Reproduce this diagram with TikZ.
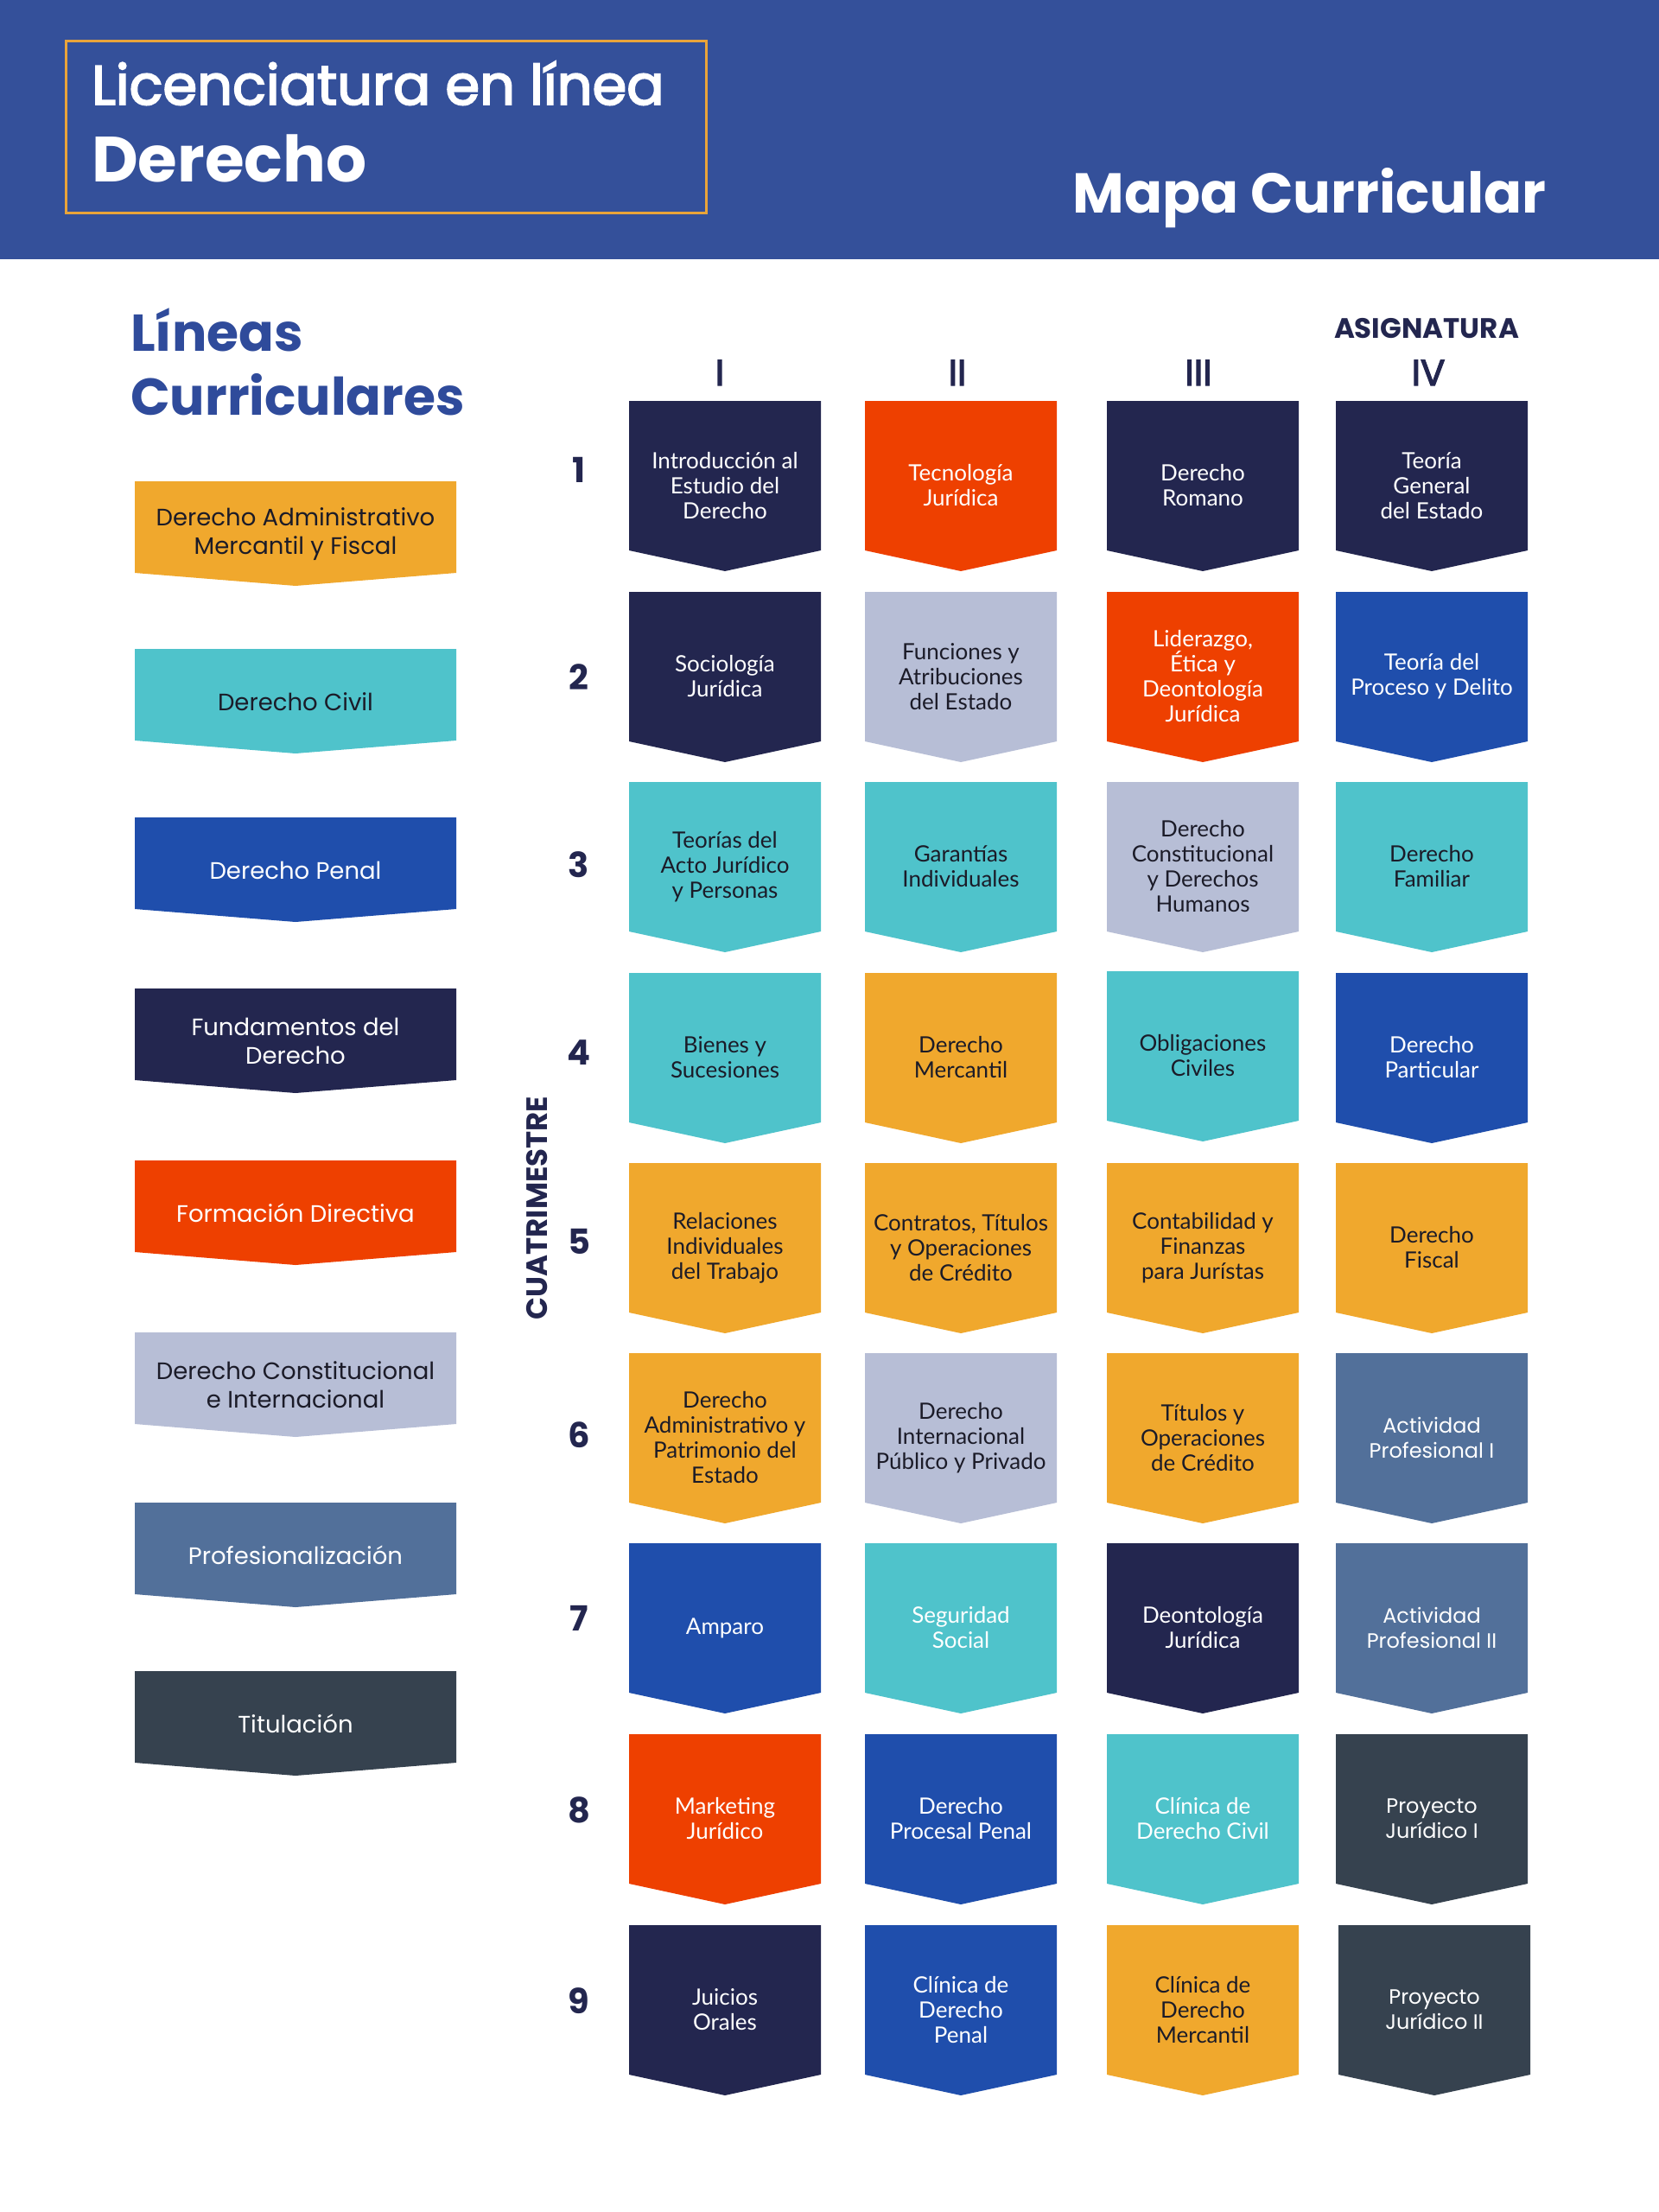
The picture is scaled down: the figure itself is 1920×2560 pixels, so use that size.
\documentclass[tikz,border=0pt]{standalone}
\usepackage{fontspec}
\setmainfont{Lato}
\newfontfamily\popf{Poppins}
\newfontfamily\popm[FakeBold=3]{Poppins}
\definecolor{hdr}{HTML}{34509A}
\definecolor{ttl}{HTML}{2F4B9B}
\definecolor{navy}{HTML}{23264F}
\definecolor{redo}{HTML}{EE4000}
\definecolor{lgray}{HTML}{B7BED6}
\definecolor{turq}{HTML}{4FC3CB}
\definecolor{blu}{HTML}{1F4EAC}
\definecolor{orng}{HTML}{F0A82D}
\definecolor{slate}{HTML}{52709A}
\definecolor{dslate}{HTML}{36424F}
\definecolor{bord}{HTML}{E9A43A}
\definecolor{ink}{HTML}{1B1B28}
\tikzset{
  gtext/.style={align=center, inner sep=0pt, font=\fontsize{26}{29}\selectfont},
  mtext/.style={align=center, inner sep=0pt, font=\popf\fontsize{24}{29}\selectfont},
  ltext/.style={align=center, inner sep=0pt, font=\popf\fontsize{27.5}{33}\selectfont},
  rownum/.style={inner sep=0pt, text=navy, font=\popf\bfseries\fontsize{40}{40}\selectfont},
  colnum/.style={inner sep=0pt, anchor=base, text=navy, font=\popm\fontsize{42}{42}\selectfont},
}
% grid box: name, center x, top y, fill, text colour, text style, text
\newcommand\gbox[7]{%
  \fill[#4] (#2-111,#3) -- (#2+111,#3) -- (#2+111,#3+173) -- (#2,#3+197) -- (#2-111,#3+173) -- cycle;
  \node[#6,text=#5] (#1) at (#2,#3+98) {#7};}
% legend box: name, top y, fill, text colour, text
\newcommand\lbox[5]{%
  \fill[#3] (156,#2) -- (528,#2) -- (528,#2+106) -- (342,#2+121) -- (156,#2+106) -- cycle;
  \node[ltext,text=#4] (#1) at (342,#2+61) {#5};}
\begin{document}
\begin{tikzpicture}[x=1pt,y=-1pt]
\useasboundingbox (0,0) rectangle (1920,2560);
\fill[white] (0,0) rectangle (1920,2560);
% header
\fill[hdr] (0,0) rectangle (1920,300);
\draw[bord, line width=3pt] (76,47) rectangle (817,246);
\node[anchor=base west, inner sep=0pt, text=white, font=\popm\fontsize{64}{64}\selectfont] (lic) at (106,121) {Licenciatura en línea};
\node[anchor=base west, inner sep=0pt, text=white, font=\popf\bfseries\fontsize{74}{74}\selectfont] (der) at (106,210) {Derecho};
\node[anchor=base east, inner sep=0pt, text=white, font=\popf\bfseries\fontsize{65}{65}\selectfont] (mapa) at (1790,246) {Mapa Curricular};
% left title
\node[anchor=base west, inner sep=0pt, text=ttl, font=\popf\bfseries\fontsize{60}{60}\selectfont] (lin) at (151,406) {Líneas};
\node[anchor=base west, inner sep=0pt, text=ttl, font=\popf\bfseries\fontsize{60}{60}\selectfont] (cur) at (151,480) {Curriculares};
% column heads
\node[anchor=base, inner sep=0pt, text=navy, font=\popf\bfseries\fontsize{32.5}{32}\selectfont] (asig) at (1651,391) {ASIGNATURA};
\node[colnum] (cI) at (833,446) {I};
\node[colnum] (cII) at (1108,446) {II};
\node[colnum] (cIII) at (1387,446) {III};
\node[colnum] (cIV) at (1653,446) {IV};
% row numbers
\node[rownum] (r1) at (670,544) {1};
\node[rownum] (r2) at (670,784) {2};
\node[rownum] (r3) at (670,1001) {3};
\node[rownum] (r4) at (670,1218) {4};
\node[rownum] (r5) at (670,1437) {5};
\node[rownum] (r6) at (670,1661) {6};
\node[rownum] (r7) at (670,1873) {7};
\node[rownum] (r8) at (670,2095) {8};
\node[rownum] (r9) at (670,2316) {9};
\node[rotate=90, inner sep=0pt, text=navy, font=\popf\bfseries\fontsize{34}{34}\selectfont] (cuat) at (622,1398) {CUATRIMESTRE};
% legend
\lbox{l1}{557}{orng}{ink}{Derecho Administrativo\\Mercantil y Fiscal}
\lbox{l2}{751}{turq}{ink}{Derecho Civil}
\lbox{l3}{946}{blu}{white}{Derecho Penal}
\lbox{l4}{1144}{navy}{white}{Fundamentos del\\Derecho}
\lbox{l5}{1343}{redo}{white}{Formación Directiva}
\lbox{l6}{1542}{lgray}{ink}{Derecho Constitucional\\e Internacional}
\lbox{l7}{1739}{slate}{white}{Profesionalización}
\lbox{l8}{1934}{dslate}{white}{Titulación}
% row 1
\gbox{a11}{839}{464}{navy}{white}{gtext}{Introducción al\\Estudio del\\Derecho}
\gbox{a12}{1112}{464}{redo}{white}{gtext}{Tecnología\\Jurídica}
\gbox{a13}{1392}{464}{navy}{white}{gtext}{Derecho\\Romano}
\gbox{a14}{1657}{464}{navy}{white}{gtext}{Teoría\\General\\del Estado}
% row 2
\gbox{a21}{839}{685}{navy}{white}{gtext}{Sociología\\Jurídica}
\gbox{a22}{1112}{685}{lgray}{ink}{gtext}{Funciones y\\Atribuciones\\del Estado}
\gbox{a23}{1392}{685}{redo}{white}{gtext}{Liderazgo,\\Ética y\\Deontología\\Jurídica}
\gbox{a24}{1657}{685}{blu}{white}{gtext}{Teoría del\\Proceso y Delito}
% row 3
\gbox{a31}{839}{905}{turq}{ink}{gtext}{Teorías del\\Acto Jurídico\\y Personas}
\gbox{a32}{1112}{905}{turq}{ink}{gtext}{Garantías\\Individuales}
\gbox{a33}{1392}{905}{lgray}{ink}{gtext}{Derecho\\Constitucional\\y Derechos\\Humanos}
\gbox{a34}{1657}{905}{turq}{ink}{gtext}{Derecho\\Familiar}
% row 4
\gbox{a41}{839}{1126}{turq}{ink}{gtext}{Bienes y\\Sucesiones}
\gbox{a42}{1112}{1126}{orng}{ink}{gtext}{Derecho\\Mercantil}
\gbox{a43}{1392}{1124}{turq}{ink}{gtext}{Obligaciones\\Civiles}
\gbox{a44}{1657}{1126}{blu}{white}{gtext}{Derecho\\Particular}
% row 5
\gbox{a51}{839}{1346}{orng}{ink}{gtext}{Relaciones\\Individuales\\del Trabajo}
\gbox{a52}{1112}{1346}{orng}{ink}{gtext}{Contratos, Títulos\\y Operaciones\\de Crédito}
\gbox{a53}{1392}{1346}{orng}{ink}{gtext}{Contabilidad y\\Finanzas\\para Jurístas}
\gbox{a54}{1657}{1346}{orng}{ink}{gtext}{Derecho\\Fiscal}
% row 6
\gbox{a61}{839}{1566}{orng}{ink}{gtext}{Derecho\\Administrativo y\\Patrimonio del\\Estado}
\gbox{a62}{1112}{1566}{lgray}{ink}{gtext}{Derecho\\Internacional\\Público y Privado}
\gbox{a63}{1392}{1566}{orng}{ink}{gtext}{Títulos y\\Operaciones\\de Crédito}
\gbox{a64}{1657}{1566}{slate}{white}{mtext}{Actividad\\Profesional I}
% row 7
\gbox{a71}{839}{1786}{blu}{white}{gtext}{Amparo}
\gbox{a72}{1112}{1786}{turq}{white}{gtext}{Seguridad\\Social}
\gbox{a73}{1392}{1786}{navy}{white}{gtext}{Deontología\\Jurídica}
\gbox{a74}{1657}{1786}{slate}{white}{mtext}{Actividad\\Profesional II}
% row 8
\gbox{a81}{839}{2007}{redo}{white}{gtext}{Marketing\\Jurídico}
\gbox{a82}{1112}{2007}{blu}{white}{gtext}{Derecho\\Procesal Penal}
\gbox{a83}{1392}{2007}{turq}{white}{gtext}{Clínica de\\Derecho Civil}
\gbox{a84}{1657}{2007}{dslate}{white}{mtext}{Proyecto\\Jurídico I}
% row 9
\gbox{a91}{839}{2228}{navy}{white}{gtext}{Juicios\\Orales}
\gbox{a92}{1112}{2228}{blu}{white}{gtext}{Clínica de\\Derecho\\Penal}
\gbox{a93}{1392}{2228}{orng}{ink}{gtext}{Clínica de\\Derecho\\Mercantil}
\gbox{a94}{1660}{2228}{dslate}{white}{mtext}{Proyecto\\Jurídico II}
\end{tikzpicture}
\end{document}
